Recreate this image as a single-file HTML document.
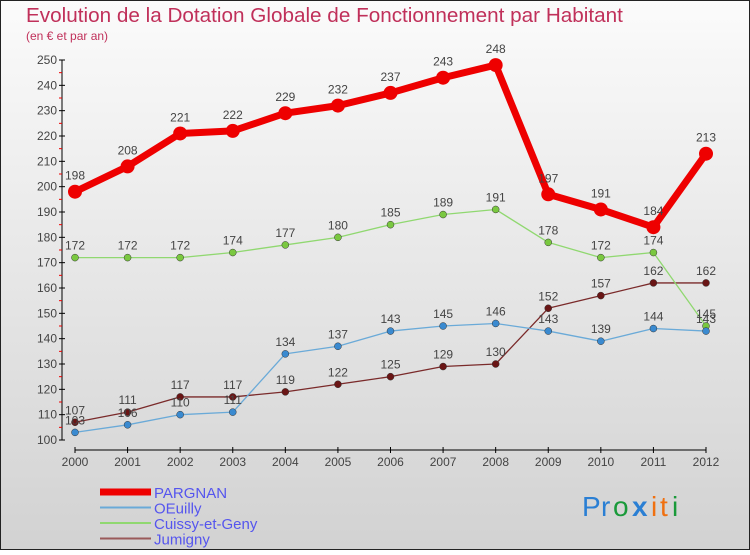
<!DOCTYPE html>
<html><head><meta charset="utf-8"><style>
html,body{margin:0;padding:0}
body{width:750px;height:550px;overflow:hidden;font-family:"Liberation Sans",sans-serif}
</style></head><body>
<svg width="750" height="550" xmlns="http://www.w3.org/2000/svg">
<defs><linearGradient id="bg" x1="0" y1="0" x2="0" y2="1"><stop offset="0" stop-color="#fbfbfb"/><stop offset="1" stop-color="#d2d2d2"/></linearGradient></defs>
<rect x="0.5" y="0.5" width="749" height="549" fill="url(#bg)" stroke="#222"/>
<text x="26" y="22" font-size="20.7" fill="#c0305a">Evolution de la Dotation Globale de Fonctionnement par Habitant</text>
<text x="26" y="40" font-size="12" fill="#c0305a">(en € et par an)</text>
<g id="axes"></g>
<g id="series"></g>
<g id="legend"></g>
<g font-size="28">
<text x="582" y="516" fill="#2a7fd4">P</text><text x="601" y="516" fill="#2a7fd4">r</text><text x="613" y="516" fill="#1a9a3a">o</text><text x="632" y="516" fill="#2a7fd4" font-weight="bold">x</text><text x="651" y="516" fill="#f07010">i</text><text x="660" y="516" fill="#f07010">t</text><text x="672" y="516" fill="#1a9a3a">i</text>
</g>
</svg>
<script>
const years=[2000,2001,2002,2003,2004,2005,2006,2007,2008,2009,2010,2011,2012];
const pargnan=[198,208,221,222,229,232,237,243,248,197,191,184,213];
const oeuilly=[103,106,110,111,134,137,143,145,146,143,139,144,143];
const cuissy=[172,172,172,174,177,180,185,189,191,178,172,174,145];
const jumigny=[107,111,117,117,119,122,125,129,130,152,157,162,162];
const yTicks=[100,110,120,130,140,150,160,170,180,190,200,210,220,230,240,250];
const NS="http://www.w3.org/2000/svg";
const X=i=>75+i*(706-75)/(years.length-1);
const Y=v=>440-(v-100)*(380/150);
function mk(tag,attrs,parent,txt){const e=document.createElementNS(NS,tag);for(const k in attrs)e.setAttribute(k,attrs[k]);if(txt!==undefined)e.textContent=txt;parent.appendChild(e);return e;}
const ax=document.getElementById('axes');
let l=mk('line',{x1:62,y1:Y(250),x2:62,y2:Y(100),stroke:'#000','stroke-width':1},ax);


yTicks.forEach(v=>{
 mk('line',{x1:59,x2:65,y1:Y(v),y2:Y(v),stroke:'#000'},ax);
 if(v<250)mk('line',{x1:59,x2:62,y1:Y(v+5),y2:Y(v+5),stroke:'#e00'},ax);
 const t=mk('text',{x:57,y:Y(v)+4,'text-anchor':'end','font-size':12,fill:'#444'},ax,v);
 
 
});
l=mk('line',{x1:75,y1:450,x2:706,y2:450,stroke:'#000'},ax);


years.forEach((y,i)=>{
 mk('line',{x1:X(i),x2:X(i),y1:447,y2:453,stroke:'#000'},ax);
 const t=mk('text',{x:X(i),y:466,'text-anchor':'middle','font-size':12,fill:'#444'},ax,y);
 
 
});
const sg=document.getElementById('series');
const series=[
 {name:'jumigny',d:jumigny,c:'#7a2a2a',w:1.3,r:3.5,f:'#6a1515'},
 {name:'cuissy-et-geny',d:cuissy,c:'#90d870',w:1.3,r:3.5,f:'#7ac840'},
 {name:'oeuilly',d:oeuilly,c:'#6aaad8',w:1.3,r:3.5,f:'#3a8ad0'},
 {name:'pargnan',d:pargnan,c:'#ee0000',w:7,r:7,f:'#ee0000'}
];
series.forEach(s=>{
 const g=mk('g',{},sg);
 
 
 const p=mk('polyline',{points:s.d.map((v,i)=>X(i)+','+Y(v)).join(' '),fill:'none',stroke:s.c,'stroke-width':s.w,'stroke-linejoin':'round'},g);
 
 
 s.d.forEach((v,i)=>{
  const c=mk('circle',{cx:X(i),cy:Y(v),r:s.r,fill:s.f,stroke:s.w>2?'none':'#333','stroke-width':0.5},g);
  
  
  const t=mk('text',{x:X(i),y:Y(v)-(s.w>2?12:8),'text-anchor':'middle','font-size':12,fill:'#444'},g,v);
  
  
 });
});
const lg=document.getElementById('legend');
const leg=[['PARGNAN','#ee0000',7],['OEuilly','#6aaad8',2],['Cuissy-et-Geny','#90d870',2],['Jumigny','#9a5a5a',2]];
leg.forEach((e,i)=>{
 const g=mk('g',{},lg);
 
 
 const yy=492+i*15.5;
 mk('line',{x1:100,x2:151,y1:yy,y2:yy,stroke:e[1],'stroke-width':e[2]},g);
 mk('text',{x:154,y:yy+6,'font-size':15,fill:'#5555ee'},g,e[0]);
});
</script>
</body></html>
